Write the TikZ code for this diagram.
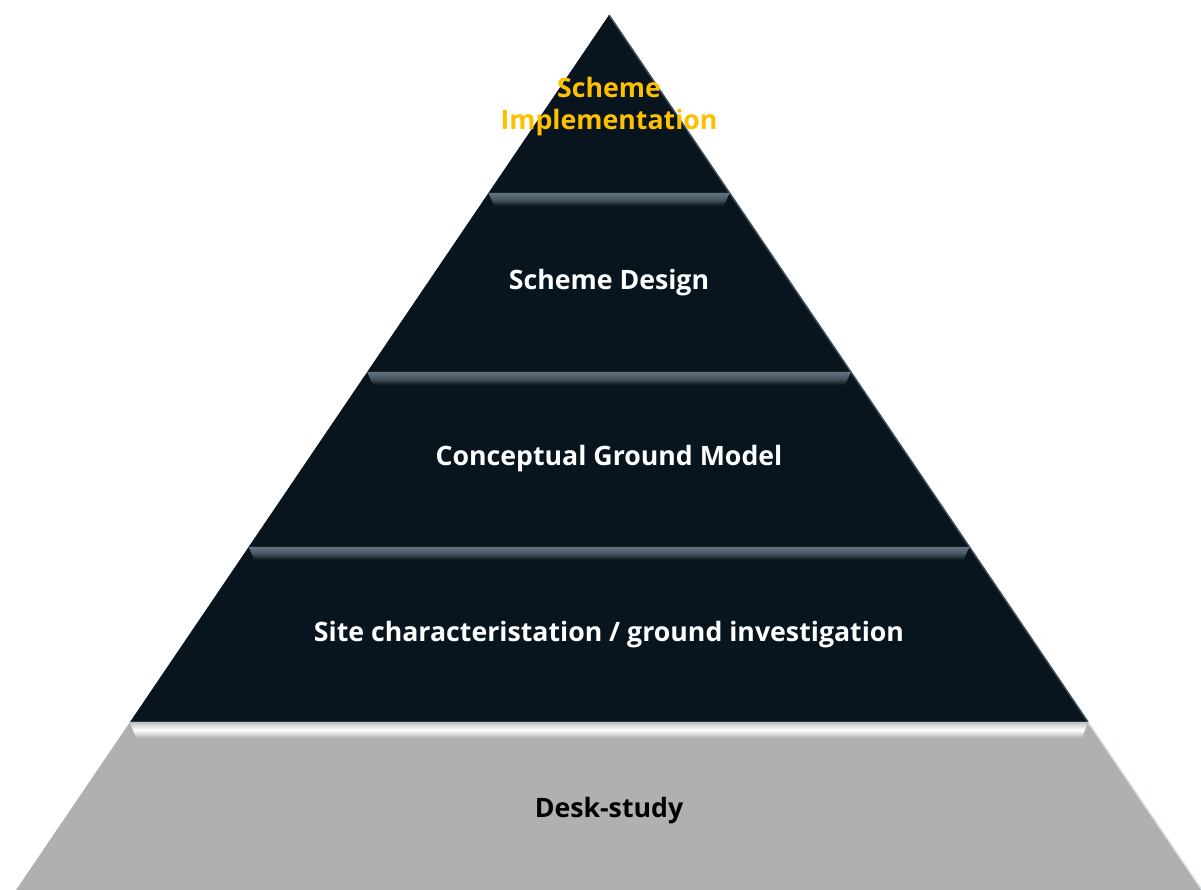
\documentclass[tikz,border=0pt]{standalone}
\usepackage{fontspec}
\setmainfont{Open Sans}
\usepackage{tikz}
\usetikzlibrary{positioning}

\definecolor{pyrdark}{HTML}{08151F}
\definecolor{pyrgray}{HTML}{B0B0B0}
\definecolor{pyrgold}{HTML}{FFC000}
\definecolor{bevellight}{HTML}{62727F}
\definecolor{edgeblue}{HTML}{D4E2EC}

\begin{document}
\begin{tikzpicture}[
  x=1pt, y=1pt,
  label/.style={font=\fontsize{26.7}{31.5}\selectfont\bfseries, align=center, inner sep=0pt},
  bevel/.style={top color=bevellight, bottom color=pyrdark, middle color=bevellight!70!pyrdark},
  graybevel/.style={top color=pyrgray!80!white, bottom color=pyrgray, middle color=white}
]
\useasboundingbox (0,0) rectangle (1201,890);

% pyramid body
\fill[pyrdark] (609,875) -- (130,168) -- (1088,168) -- cycle;
\fill[pyrgray] (130,168) -- (16,0) -- (1202,0) -- (1088,168) -- cycle;
\draw[edgeblue, line width=1.5pt] (1088,168) -- (1202,0);
\draw[bevellight!60!pyrdark, line width=1.5pt] (609,875) -- (1088,168);

% bevels between the levels
\foreach \yd/\hw in {697/120.6, 518/241.9, 343/360.4}{
  \shade[bevel] (609-\hw,\yd) -- (609+\hw,\yd) -- (609+\hw-6,\yd-13) -- (609-\hw+6,\yd-13) -- cycle;
}
\shade[graybevel] (130,168) -- (1088,168) -- (1082,152) -- (136,152) -- cycle;

% level labels
\node[label, text=pyrgold] (impl) at (609,783.5) {Scheme\\Implementation};
\node[label, text=white] (design) at (609,607) {Scheme Design};
\node[label, text=white] (model) at (609,431) {Conceptual Ground Model};
\node[label, text=white] (site) at (609,255) {Site characteristation / ground investigation};
\node[label, text=black] (desk) at (609,79) {Desk-study};
\end{tikzpicture}
\end{document}
